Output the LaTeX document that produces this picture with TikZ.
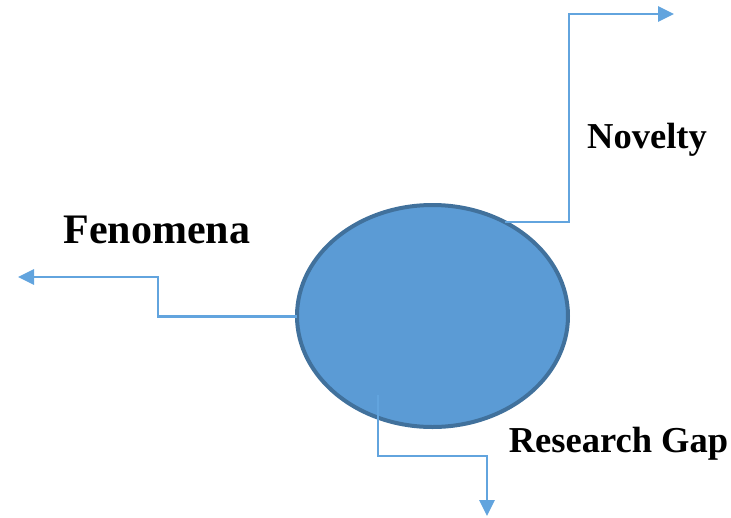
\documentclass[tikz,border=0pt]{standalone}
\usepackage{fontspec}
\setmainfont{Liberation Serif}
\usetikzlibrary{arrows.meta,shapes.geometric}
\definecolor{fillblue}{HTML}{5B9BD5}
\definecolor{lineblue}{HTML}{62A4DE}
\definecolor{edgeblue}{HTML}{41719C}
\begin{document}
\begin{tikzpicture}[x=1pt,y=-1pt,
  conn/.style={draw=lineblue,line width=2.8pt,-{Triangle[length=16pt,width=15pt]}},
  lbl/.style={font=\bfseries\fontsize{36.5}{40}\selectfont,inner sep=0pt,anchor=base},
  blob/.style={ellipse,draw=edgeblue,fill=fillblue,line width=4pt,minimum width=271pt,minimum height=222pt,inner sep=0pt}]
\useasboundingbox (0,0) rectangle (731,517);
\node[blob] (c) at (432.5,316) {};
\coordinate (nstart) at (504.6,222);
\coordinate (fstart) at (297,316.5);
\coordinate (rstart) at (378,395);
\coordinate (nend) at (674,14);
\coordinate (fend) at (18,277);
\coordinate (rend) at (487,516);
\draw[conn] (nstart) -- (569,222) -- (569,14) -- (nend);
\draw[conn] (fstart) -- (158,316.5) -- (158,277) -- (fend);
\draw[conn] (rstart) -- (378,456) -- (487,456) -- (rend);
\node[lbl] (nov) at (647,148) {Novelty};
\node[lbl,font=\bfseries\fontsize{42}{46}\selectfont] (fen) at (157,243) {Fenomena};
\node[lbl] (rg) at (618.5,452) {Research Gap};
\end{tikzpicture}
\end{document}
